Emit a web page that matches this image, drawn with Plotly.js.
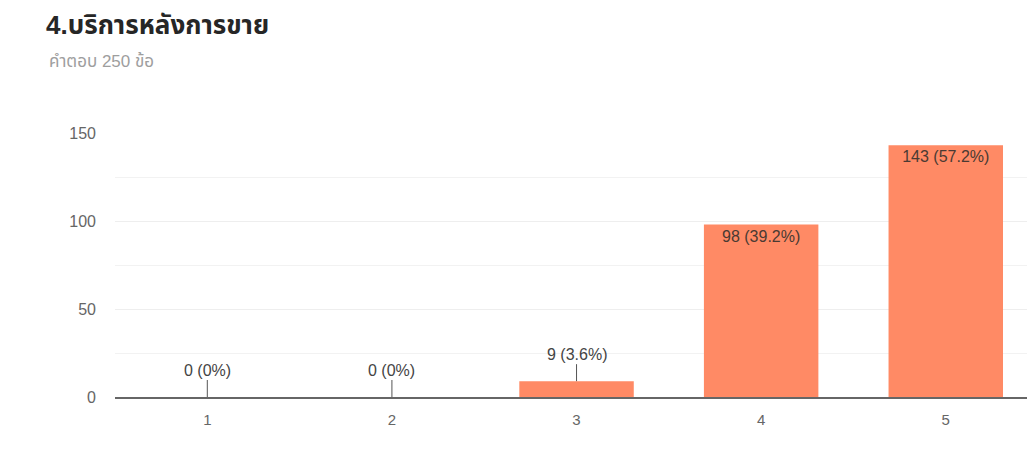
<!DOCTYPE html>
<html>
<head>
<meta charset="utf-8">
<script src="https://cdn.plot.ly/plotly-3.0.1.min.js"></script>
<style>html,body{margin:0;padding:0;background:#fff;}#chart{width:1027px;height:457px;}</style>
</head>
<body>
<div id="chart"></div>
<script>
const categories = ['1', '2', '3', '4', '5'];
const counts = [0, 0, 9, 98, 143];
const percents = ['0%', '0%', '3.6%', '39.2%', '57.2%'];
const titleText = '4.บริการหลังการขาย';
const subtitleText = 'คำตอบ 250 ข้อ';
const yTickValues = [0, 50, 100, 150];

const labels = counts.map((c, i) => c + ' (' + percents[i] + ')');
const insideIdx = [3, 4];
const outsideIdx = [0, 1, 2];

const FONT = 'Arial, "Liberation Sans", "Noto Sans Thai", "Noto Sans", sans-serif';

const trace = {
  type: 'bar',
  x: categories,
  y: counts,
  width: 0.62,
  marker: {color: '#ff8a65'},
  text: labels.map((t, i) => insideIdx.includes(i) ? t : ''),
  textposition: 'inside',
  insidetextanchor: 'end',
  textangle: 0,
  textfont: {family: FONT, size: 16, color: '#4a3a33'},
  hoverinfo: 'x+y'
};

const annotations = outsideIdx.map(i => ({
  x: i, y: counts[i], xref: 'x', yref: 'y',
  text: labels[i], showarrow: true, arrowhead: 0, arrowwidth: 1, arrowcolor: '#555',
  ax: 0, ay: -27, standoff: 0,
  font: {family: FONT, size: 16, color: '#444'}
}));

annotations.push({
  xref: 'paper', yref: 'paper', x: -0.0746, y: 1.273,
  xanchor: 'left', yanchor: 'middle', showarrow: false,
  text: subtitleText, font: {family: FONT, size: 17, color: '#9e9e9e'}
});

const layout = {
  width: 1027, height: 457,
  margin: {l: 115, r: 0, t: 133, b: 60},
  paper_bgcolor: '#fff', plot_bgcolor: '#fff',
  showlegend: false,
  title: {
    text: '<b>' + titleText + '</b>', xref: 'container', yref: 'container',
    x: 0.0448, xanchor: 'left', y: 0.945, yanchor: 'middle',
    font: {family: FONT, size: 26, color: '#262626'}
  },
  xaxis: {
    type: 'category', range: [-0.5, 4.44],
    showgrid: false, showline: true, linecolor: '#666', linewidth: 2, layer: 'above traces',
    ticks: '', ticklabelstandoff: 8,
    tickfont: {family: FONT, size: 15, color: '#666'}
  },
  yaxis: {
    range: [0, 150], tickvals: yTickValues,
    showgrid: true, gridcolor: '#eeeeee', gridwidth: 1,
    minor: {dtick: 25, showgrid: true, gridcolor: '#f2f2f2', gridwidth: 1},
    zeroline: false, showline: false, ticks: '', ticklabelstandoff: 18,
    tickfont: {family: FONT, size: 16, color: '#666'}
  },
  annotations: annotations
};

Plotly.newPlot('chart', [trace], layout, {displayModeBar: false, staticPlot: true});
</script>
</body>
</html>
